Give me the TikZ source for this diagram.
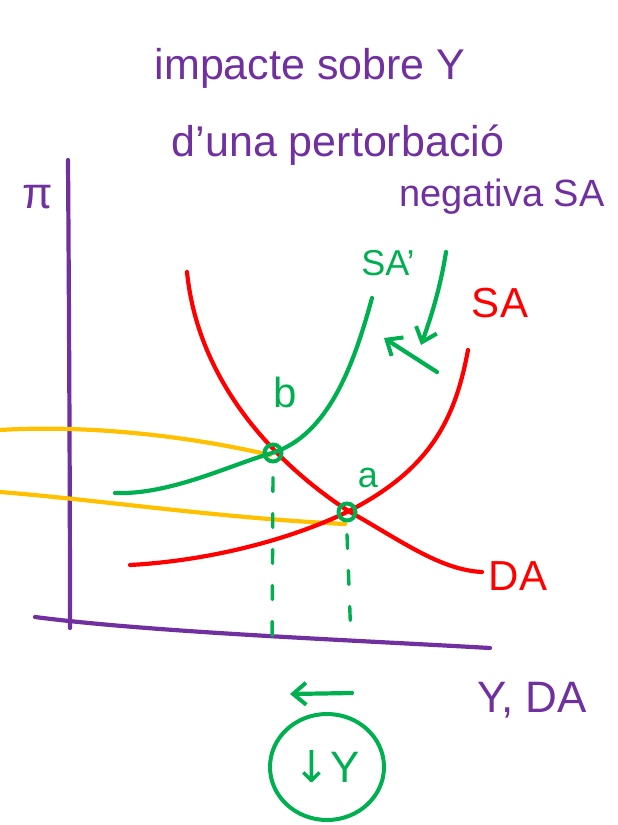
\documentclass[tikz,border=0pt]{standalone}
\usepackage{fontspec}
\setmainfont{Liberation Sans}
\newfontfamily\symfont{DejaVu Sans}
\usetikzlibrary{arrows.meta,shapes.geometric}
\definecolor{hpurple}{RGB}{112,48,160}
\definecolor{hgreen}{RGB}{0,176,80}
\definecolor{hred}{RGB}{255,0,0}
\definecolor{hyellow}{RGB}{255,192,0}
\tikzset{
  pen/.style={line width=4.2pt, line cap=round, line join=round},
  axis/.style={pen, hpurple},
  redc/.style={pen, hred},
  greenc/.style={pen, hgreen},
  yellowc/.style={pen, hyellow},
  title/.style={text=hpurple, font=\fontsize{43}{46}\selectfont, inner sep=0pt},
  eqpt/.style={circle, draw=hgreen, line width=4pt, minimum size=17pt, inner sep=0pt},
  glabel/.style={text=hgreen, font=\fontsize{36}{40}\selectfont, inner sep=0pt},
  rlabel/.style={text=hred, font=\fontsize{42}{46}\selectfont, inner sep=0pt},
  guide/.style={hgreen, line width=3.4pt, line cap=round, dash pattern=on 14pt off 22pt},
  garrow/.style={greenc, -{Straight Barb[length=13pt,width=22pt,line width=4pt]}}
}
\begin{document}
\begin{tikzpicture}[x=1pt,y=-1pt]
\useasboundingbox (0,0) rectangle (618,825);
% title
\node[title] (t1) at (310,68) {impacte sobre Y};
\node[title] (t2) at (338,145) {d'una pertorbació};
\node[title, font=\fontsize{38}{42}\selectfont] (t3) at (502,197) {negativa SA};
% axes
\draw[axis] (68,160) .. controls (69,300) and (70,500) .. (70,628);
\draw[axis] (35,617) .. controls (150,632) and (350,640) .. (490,648);
\node[text=hpurple, font=\fontsize{44}{48}\selectfont, inner sep=0pt] (pi) at (38,197) {π};
\node[text=hpurple, font=\fontsize{44}{48}\selectfont, inner sep=0pt] (yda) at (532,700) {Y, DA};
% yellow lines
\draw[yellowc] (0,430) .. controls (80,425) and (180,434) .. (270,455);
\draw[yellowc] (0,492) .. controls (100,500) and (220,518) .. (345,524);
% red DA
\draw[redc] (187,272) .. controls (200,400) and (300,480) .. (350,512)
  .. controls (400,540) and (440,570) .. (482,572);
\node[rlabel] (da) at (518,576) {DA};
% red SA
\draw[redc] (130,565) .. controls (220,560) and (300,535) .. (347,512)
  .. controls (430,470) and (455,420) .. (468,350);
\node[rlabel] (sa) at (500,303) {SA};
% green SA'
\draw[greenc] (115,493) .. controls (170,495) and (230,465) .. (272,453)
  .. controls (330,435) and (355,360) .. (372,298);
\node[glabel] (sap) at (388,263) {SA'};
% equilibrium points
\node[eqpt] (b) at (273,453) {};
\node[eqpt] (a) at (347,512) {};
\node[glabel, font=\fontsize{42}{46}\selectfont] (blab) at (285,392) {b};
\node[glabel] (alab) at (368,478) {a};
% guide lines
\coordinate (bx) at (272,652);
\coordinate (ax) at (351,640);
\draw[guide] (b.south) ++(0,14) -- (bx);
\draw[guide] (a.south) ++(0,12) -- (ax);
% shift arrows
\coordinate (s1) at (446,252);
\coordinate (s2) at (421,345);
\draw[garrow] (s1) .. controls (440,290) and (430,320) .. (s2);
\coordinate (s3) at (437,372);
\coordinate (s4) at (384,338);
\draw[garrow] (s3) -- (s4);
% output arrow
\coordinate (o1) at (352,693);
\coordinate (o2) at (290,694);
\draw[garrow] (o1) -- (o2);
% circled result
\node[draw=hgreen, line width=4pt, ellipse, minimum width=114pt, minimum height=106pt, text=hgreen, font=\fontsize{44}{48}\selectfont, inner sep=0pt] (res) at (327,767) {{\symfont ↓}Y};
\end{tikzpicture}
\end{document}
